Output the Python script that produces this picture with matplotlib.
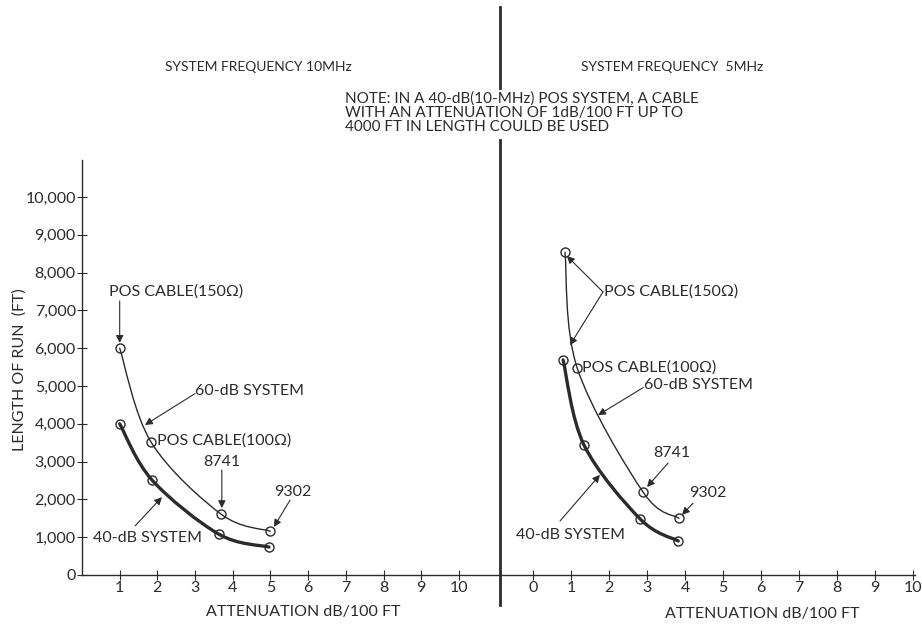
import matplotlib
matplotlib.use('Agg')
import matplotlib.pyplot as plt
import numpy as np
from matplotlib.path import Path
from matplotlib.patches import PathPatch
from matplotlib.lines import Line2D

plt.rcParams['font.family'] = ['Lato', 'DejaVu Sans']
INK = '#2b2b2b'
FS = 11.5

# data (attenuation dB/100 ft, length of run ft)
left60_x = [1.0, 1.83, 3.69, 4.99]
left60_y = [6000, 3520, 1610, 1160]
left40_x = [1.0, 1.86, 3.63, 4.96]
left40_y = [4000, 2510, 1080, 740]

right60_x = [0.84, 1.16, 2.89, 3.84]
right60_y = [8540, 5480, 2200, 1500]
right40_x = [0.79, 1.34, 2.82, 3.82]
right40_y = [5690, 3440, 1480, 900]

yticks = list(range(0, 10001, 1000))
left_xticks = [1, 2, 3, 4, 5, 6, 7, 8, 9, 10]
right_xticks = [0, 1, 2, 3, 4, 5, 6, 7, 8, 9, 10]

note_lines = ['NOTE: IN A 40-dB(10-MHz) POS SYSTEM, A CABLE',
              'WITH AN ATTENUATION OF 1dB/100 FT UP TO',
              '4000 FT IN LENGTH COULD BE USED']

ARROW = dict(arrowstyle='-|>', lw=0.8, color=INK, mutation_scale=11,
             shrinkA=0, shrinkB=0)


def smooth(ax, xs, ys, lw):
    # catmull-rom -> bezier, drawn by matplotlib as a path in data coords
    p = np.column_stack([xs, ys]).astype(float)
    p = np.vstack([p[0], p, p[-1]])
    verts = [p[1]]
    codes = [Path.MOVETO]
    for i in range(1, len(p) - 2):
        c1 = p[i] + (p[i + 1] - p[i - 1]) / 6
        c2 = p[i + 1] - (p[i + 2] - p[i]) / 6
        verts += [c1, c2, p[i + 1]]
        codes += [Path.CURVE4] * 3
    ax.add_patch(PathPatch(Path(verts, codes), fill=False, lw=lw, ec=INK,
                           capstyle='round'))
    ax.plot(xs, ys, 'o', ms=6.5, mfc='none', mec=INK, mew=1.0)


def label(ax, txt, x, y, ha='left'):
    ax.text(x, y, txt, fontsize=FS, color=INK, ha=ha, va='center')


def arrow(ax, start, end):
    ax.annotate('', xy=end, xytext=start, arrowprops=ARROW)


fig = plt.figure(figsize=(9.22, 6.25), dpi=100)
W, H = 922.0, 625.0

# left panel : 10 MHz
axl = fig.add_axes([82 / W, 50 / H, 418 / W, 415 / H])
axl.set_xlim(0, 11.09)
axl.set_ylim(0, 10980)
for s in ['top', 'right']:
    axl.spines[s].set_visible(False)
for s in ['left', 'bottom']:
    axl.spines[s].set_color(INK)
    axl.spines[s].set_linewidth(1.0)
axl.set_yticks(yticks)
axl.set_yticklabels(['0'] + ['{:,}'.format(v) for v in yticks[1:]])
axl.set_xticks(left_xticks)
axl.tick_params(direction='inout', length=7, width=0.8, colors=INK,
                labelsize=FS, pad=1)
axl.set_xlabel('ATTENUATION dB/100 FT', fontsize=FS, color=INK)
axl.xaxis.set_label_coords(221 / 418, -30 / 415)

smooth(axl, left60_x, left60_y, 1.0)
smooth(axl, left40_x, left40_y, 2.4)

label(axl, 'POS CABLE(150\u03a9)', 0.72, 7490)
arrow(axl, (1.0, 7250), (1.0, 6140))
label(axl, '60-dB SYSTEM', 3.0, 4870)
arrow(axl, (3.0, 4800), (1.67, 3970))
label(axl, 'POS CABLE(100\u03a9)', 2.0, 3560)
label(axl, '8741', 3.72, 2990, ha='center')
arrow(axl, (3.71, 2780), (3.71, 1770))
label(axl, '9302', 5.6, 2200, ha='center')
arrow(axl, (5.52, 1980), (5.09, 1270))
label(axl, '40-dB SYSTEM', 0.3, 980)
arrow(axl, (1.41, 1300), (2.12, 2060))

# right panel : 5 MHz
axr = fig.add_axes([500 / W, 50 / H, 415 / W, 415 / H])
axr.set_xlim(-0.87, 10.05)
axr.set_ylim(0, 10980)
for s in ['top', 'right', 'left']:
    axr.spines[s].set_visible(False)
axr.spines['bottom'].set_color(INK)
axr.spines['bottom'].set_linewidth(1.0)
axr.set_yticks([])
axr.set_xticks(right_xticks)
axr.tick_params(direction='inout', length=7, width=0.8, colors=INK,
                labelsize=FS, pad=1)
axr.set_xlabel('ATTENUATION dB/100 FT', fontsize=FS, color=INK)
axr.xaxis.set_label_coords(262 / 415, -32 / 415)

smooth(axr, right60_x, right60_y, 1.0)
smooth(axr, right40_x, right40_y, 2.4)

label(axr, 'POS CABLE(150\u03a9)', 1.86, 7490)
arrow(axr, (1.84, 7490), (0.89, 8440))
arrow(axr, (1.84, 7490), (0.97, 6080))
label(axr, 'POS CABLE(100\u03a9)', 1.3, 5500)
label(axr, '60-dB SYSTEM', 2.93, 5030)
arrow(axr, (2.9, 4960), (1.71, 4230))
label(axr, '8741', 3.66, 3230, ha='center')
arrow(axr, (3.55, 2960), (3.0, 2330))
label(axr, '9302', 4.6, 2170, ha='center')
arrow(axr, (4.21, 1900), (3.92, 1590))
label(axr, '40-dB SYSTEM', -0.45, 1060)
arrow(axr, (0.71, 1430), (1.76, 2650))

# divider (broken around the note), headings, note
for y0, y1 in [(7, 88), (140, 605)]:
    fig.add_artist(Line2D([500 / W, 500 / W], [1 - y0 / H, 1 - y1 / H],
                          color=INK, lw=2.0))
fig.text(258 / W, 1 - 67 / H, 'SYSTEM FREQUENCY 10MHz', fontsize=10,
         color=INK, ha='center', va='center')
fig.text(672 / W, 1 - 67 / H, 'SYSTEM FREQUENCY  5MHz', fontsize=10,
         color=INK, ha='center', va='center')
for i, line in enumerate(note_lines):
    fig.text(345 / W, 1 - (103 + 14 * i) / H, line, fontsize=11,
             color=INK, ha='left', va='baseline')
fig.text(20 / W, 1 - 370 / H, 'LENGTH OF RUN  (FT)', fontsize=FS, color=INK,
         rotation=90, ha='center', va='center')

fig.savefig('out.png', dpi=100)
